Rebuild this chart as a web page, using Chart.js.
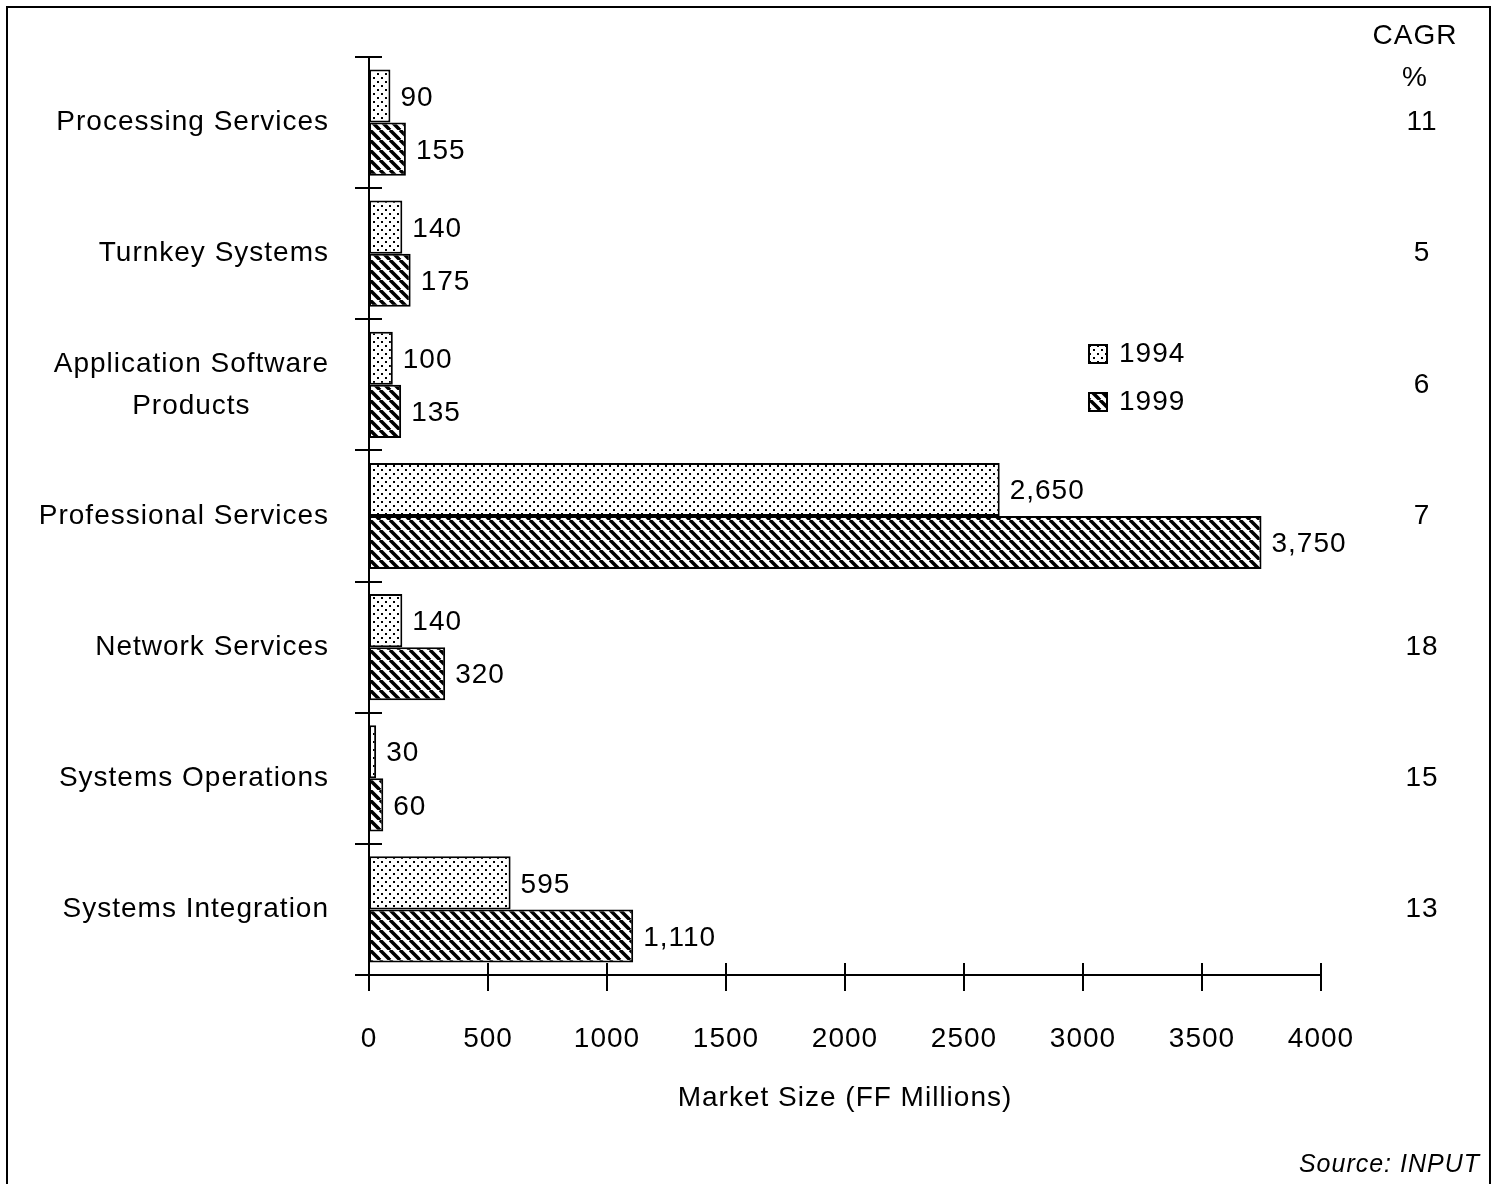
<!DOCTYPE html>
<html>
<head>
<meta charset="utf-8">
<script src="https://cdn.jsdelivr.net/npm/chart.js@4.4.1/dist/chart.umd.min.js"></script>
<style>
  html, body { margin: 0; padding: 0; background: #fff; }
  #wrap { width: 1500px; height: 1184px; position: relative; }
</style>
</head>
<body>
<div id="wrap"><canvas id="chart" width="1500" height="1184"></canvas></div>
<script>
  'use strict'

  // Datos del gráfico
  var categories = [
    ['Processing Services'],
    ['Turnkey Systems'],
    ['Application Software', 'Products'],
    ['Professional Services'],
    ['Network Services'],
    ['Systems Operations'],
    ['Systems Integration']
  ]
  var values1994 = [90, 140, 100, 2650, 140, 30, 595]
  var values1999 = [155, 175, 135, 3750, 320, 60, 1110]
  var cagr = ['11', '5', '6', '7', '18', '15', '13']
  var xTicks = [0, 500, 1000, 1500, 2000, 2500, 3000, 3500, 4000]
  var seriesNames = ['1994', '1999']

  var FONT = '"Liberation Sans", Arial, Helvetica, sans-serif'

  // Patrones de relleno
  function dotPattern() {
    var c = document.createElement('canvas')
    c.width = 8; c.height = 8
    var g = c.getContext('2d')
    g.fillStyle = '#fff'
    g.fillRect(0, 0, 8, 8)
    g.fillStyle = '#000'
    g.fillRect(1, 1, 2, 2)
    g.fillRect(5, 5, 2, 2)
    return g.createPattern(c, 'repeat')
  }

  function hatchPattern() {
    var s = 10
    var c = document.createElement('canvas')
    c.width = s; c.height = s
    var g = c.getContext('2d')
    g.fillStyle = '#fff'
    g.fillRect(0, 0, s, s)
    g.strokeStyle = '#000'
    g.lineWidth = 3.5
    for (var k = -1; k <= 1; k++) {
      g.beginPath()
      g.moveTo(k * s, 0)
      g.lineTo(k * s + s, s)
      g.stroke()
    }
    return g.createPattern(c, 'repeat')
  }

  var fills = [dotPattern(), hatchPattern()]

  function fmt(v) {
    return v.toLocaleString('en-US')
  }

  // Marcas de ejes, etiquetas, CAGR, leyenda y fuente
  var decorPlugin = {
    id: 'decor',
    beforeDraw: function (chart) {
      // texto algo más ancho, como en el original
      chart.ctx.letterSpacing = '1px'
    },
    afterDraw: function (chart) {
      var ctx = chart.ctx
      var x = chart.scales.x
      var y = chart.scales.y
      var area = chart.chartArea
      ctx.save()
      ctx.strokeStyle = '#000'
      ctx.lineWidth = 2

      // extensión del eje x hacia la izquierda
      ctx.beginPath()
      ctx.moveTo(area.left - 14, area.bottom)
      ctx.lineTo(area.left, area.bottom)
      ctx.stroke()

      // ticks del eje x (cruces)
      xTicks.forEach(function (t) {
        var px = Math.round(x.getPixelForValue(t))
        ctx.beginPath()
        ctx.moveTo(px, area.bottom - 12)
        ctx.lineTo(px, area.bottom + 16)
        ctx.stroke()
      })

      // ticks del eje y entre categorías
      for (var i = 0; i <= categories.length; i++) {
        var py = Math.round(y.getPixelForValue(i - 0.5))
        ctx.beginPath()
        ctx.moveTo(area.left - 14, py)
        ctx.lineTo(area.left + 13, py)
        ctx.stroke()
      }

      ctx.fillStyle = '#000'
      ctx.font = '28px ' + FONT
      ctx.letterSpacing = '1px'
      ctx.textBaseline = 'middle'

      // etiquetas de categoría
      categories.forEach(function (lines, i) {
        var cy = y.getPixelForValue(i)
        var widths = lines.map(function (l) { return ctx.measureText(l).width })
        var maxW = Math.max.apply(null, widths)
        var right = area.left - 40
        var lh = 42
        lines.forEach(function (l, j) {
          var ly = cy + (j - (lines.length - 1) / 2) * lh
          ctx.textAlign = 'center'
          ctx.fillText(l, right - maxW / 2, ly)
        })
      })

      // columna CAGR
      ctx.textAlign = 'center'
      ctx.fillText('CAGR', 1415, 36)
      ctx.fillText('%', 1415, 78)
      cagr.forEach(function (v, i) {
        ctx.fillText(v, 1422, y.getPixelForValue(i))
      })

      // leyenda
      var ly0 = 354
      seriesNames.forEach(function (name, i) {
        var by = ly0 + i * 48
        ctx.fillStyle = fills[i]
        ctx.fillRect(1089, by - 9, 18, 18)
        ctx.strokeRect(1089, by - 9, 18, 18)
        ctx.fillStyle = '#000'
        ctx.textAlign = 'left'
        ctx.fillText(name, 1119, by)
      })

      // fuente
      ctx.font = 'italic 25px ' + FONT
      ctx.textAlign = 'right'
      ctx.fillText('Source: INPUT', 1480, 1165)

      // marco
      ctx.lineWidth = 2
      ctx.strokeRect(7, 7, 1483, 1200)
      ctx.restore()
    },
    afterDatasetsDraw: function (chart) {
      var ctx = chart.ctx
      ctx.save()
      ctx.fillStyle = '#000'
      ctx.font = '28px ' + FONT
      ctx.letterSpacing = '1px'
      ctx.textBaseline = 'middle'
      ctx.textAlign = 'left'
      chart.data.datasets.forEach(function (ds, di) {
        chart.getDatasetMeta(di).data.forEach(function (el, i) {
          ctx.fillText(fmt(ds.data[i]), el.x + 10, el.y + 2)
        })
      })
      ctx.restore()
    }
  }

  var ctx = document.getElementById('chart').getContext('2d')

  var chart = new Chart(ctx, {
    type: 'bar',
    data: {
      labels: categories.map(function (c) { return c.join(' ') }),
      datasets: [
        {
          label: seriesNames[0],
          data: values1994,
          backgroundColor: fills[0],
          borderColor: '#000',
          borderWidth: 2,
          borderSkipped: false,
          categoryPercentage: 0.81,
          barPercentage: 1.0
        },
        {
          label: seriesNames[1],
          data: values1999,
          backgroundColor: fills[1],
          borderColor: '#000',
          borderWidth: 2,
          borderSkipped: false,
          categoryPercentage: 0.81,
          barPercentage: 1.0
        }
      ]
    },
    options: {
      indexAxis: 'y',
      responsive: false,
      animation: false,
      devicePixelRatio: 1,
      layout: {
        padding: { top: 57, right: 179, bottom: 69, left: 0 }
      },
      plugins: {
        legend: { display: false },
        tooltip: { enabled: false }
      },
      scales: {
        x: {
          min: 0,
          max: 4000,
          afterFit: function (s) { s.height = 140 },
          afterBuildTicks: function (s) {
            s.ticks = xTicks.map(function (v) { return { value: v } })
          },
          grid: { display: false },
          border: { display: true, color: '#000', width: 2 },
          ticks: {
            color: '#000',
            padding: 39,
            font: { family: FONT, size: 28 },
            callback: function (v) { return String(v) }
          },
          title: {
            display: true,
            text: 'Market Size (FF Millions)',
            color: '#000',
            padding: 0,
            font: { family: FONT, size: 28 }
          }
        },
        y: {
          afterFit: function (s) { s.width = 369 },
          grid: { display: false },
          border: { display: true, color: '#000', width: 2 },
          ticks: { display: false }
        }
      }
    },
    plugins: [decorPlugin]
  })
</script>
</body>
</html>
